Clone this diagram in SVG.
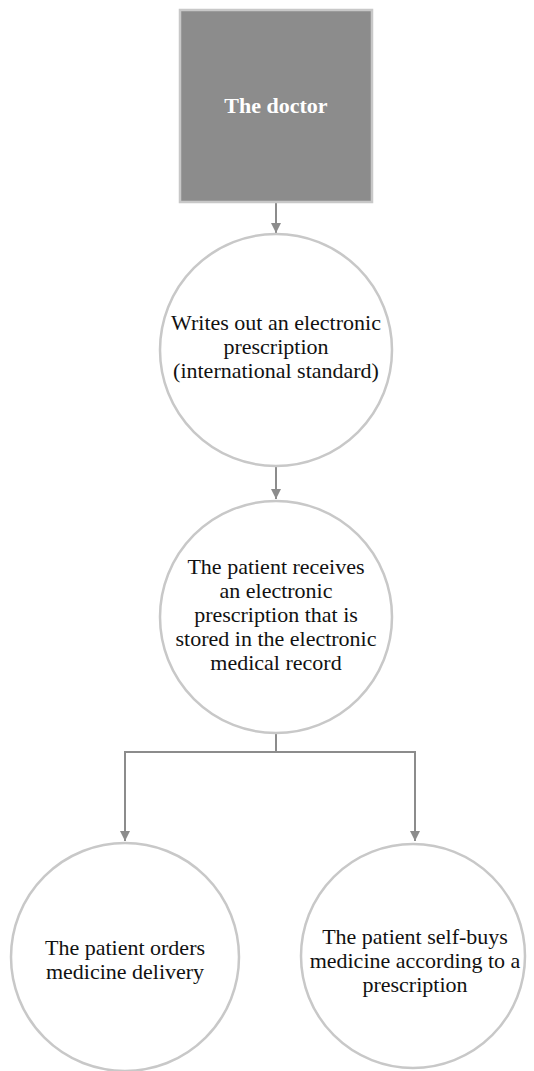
<svg xmlns="http://www.w3.org/2000/svg" width="534" height="1071" viewBox="0 0 534 1071">
<style>
.node{fill:#ffffff;stroke:#c8c8c8;stroke-width:2.5}
.txt{font-family:"Liberation Serif","Times New Roman",serif;font-size:22px;fill:#111;text-anchor:middle}
.conn{fill:none;stroke:#8c8c8c;stroke-width:2}
</style>
<defs>
<marker id="arr" viewBox="0 0 10 10" refX="10" refY="5" markerWidth="10" markerHeight="10" markerUnits="userSpaceOnUse" orient="auto">
<path d="M0,0 L10,5 L0,10 z" fill="#8c8c8c"/>
</marker>
</defs>
<rect width="534" height="1071" fill="#ffffff"/>
<g id="connectors">
<line class="conn" x1="276" y1="202" x2="276" y2="233" marker-end="url(#arr)"/>
<line class="conn" x1="276" y1="467" x2="276" y2="499" marker-end="url(#arr)"/>
<polyline class="conn" points="276,733 276,752 125,752 125,841" marker-end="url(#arr)"/>
<polyline class="conn" points="276,752 415,752 415,841" marker-end="url(#arr)"/>
</g>
<g id="doctor">
<rect x="180" y="10" width="192" height="192" fill="#8c8c8c" stroke="#c8c8c8" stroke-width="2.5"/>
<text x="276" y="113" class="txt" style="font-weight:bold;fill:#ffffff">The doctor</text>
</g>
<g id="writes">
<circle class="node" cx="276" cy="350" r="116"/>
<text class="txt" x="276" y="330">Writes out an electronic</text>
<text class="txt" x="276" y="354">prescription</text>
<text class="txt" x="276" y="378">(international standard)</text>
</g>
<g id="receives">
<circle class="node" cx="276" cy="617" r="116"/>
<text class="txt" x="276" y="574">The patient receives</text>
<text class="txt" x="276" y="598">an electronic</text>
<text class="txt" x="276" y="622">prescription that is</text>
<text class="txt" x="276" y="646">stored in the electronic</text>
<text class="txt" x="276" y="670">medical record</text>
</g>
<g id="orders">
<circle class="node" cx="125" cy="957" r="114"/>
<text class="txt" x="125" y="955">The patient orders</text>
<text class="txt" x="125" y="979">medicine delivery</text>
</g>
<g id="selfbuys">
<circle class="node" cx="413" cy="956" r="112"/>
<text class="txt" x="415" y="944">The patient self-buys</text>
<text class="txt" x="415" y="968">medicine according to a</text>
<text class="txt" x="415" y="992">prescription</text>
</g>
</svg>
